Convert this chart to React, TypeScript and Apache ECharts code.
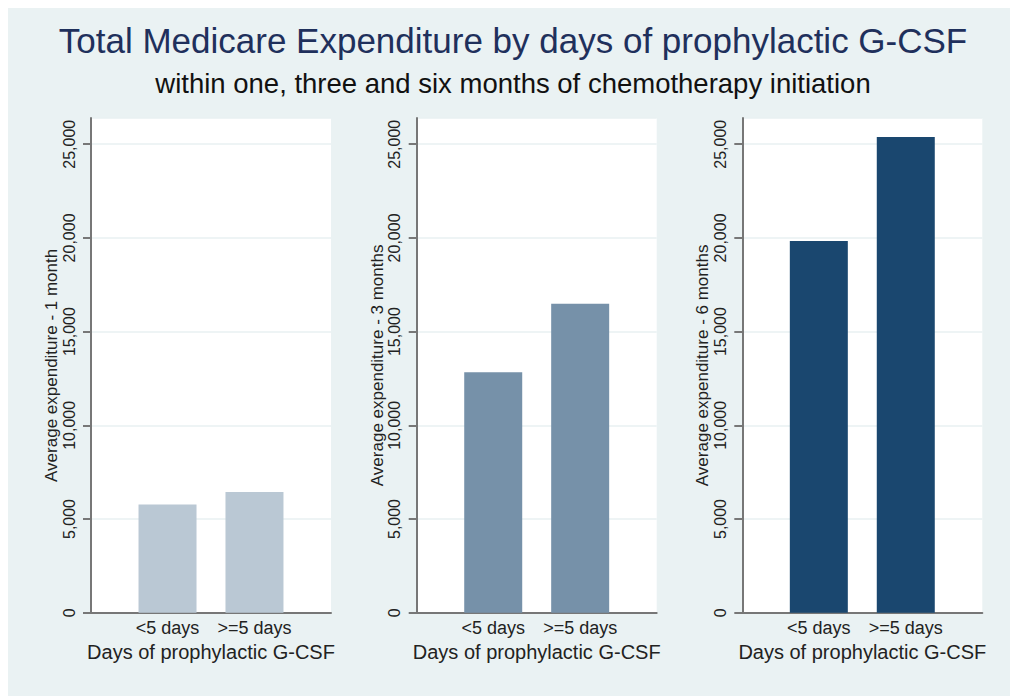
import React, { useEffect, useRef } from "react";
import * as echarts from "echarts";

const TITLE = "Total Medicare Expenditure by days of prophylactic G-CSF";
const SUBTITLE = "within one, three and six months of chemotherapy initiation";
const categories = ["<5 days", ">=5 days"];
const xTitle = "Days of prophylactic G-CSF";
const yTitles = [
  "Average expenditure - 1 month",
  "Average expenditure - 3 months",
  "Average expenditure - 6 months",
];
const exp1Month = [5770, 6440];
const exp3Months = [12830, 16490];
const exp6Months = [19830, 25380];
const panelValues = [exp1Month, exp3Months, exp6Months];
const barColors = ["#bac8d4", "#7691a9", "#1a476f"];
const yMax = 26400;
const yStep = 5000;

const FONT = "Liberation Sans, Arial, Helvetica, sans-serif";
const gridLefts = [83, 408.7, 734.3];

export default function App() {
  const ref = useRef<HTMLDivElement>(null);
  useEffect(() => {
    if (!ref.current) return;
    const chart = echarts.init(ref.current, null, { renderer: "svg" });
    const grids = gridLefts.map((left) => ({
      left,
      top: 110,
      width: 240,
      height: 494.7,
      show: true,
      backgroundColor: "#ffffff",
      borderWidth: 0,
    }));
    const xAxes = gridLefts.map((_, i) => ({
      type: "value",
      gridIndex: i,
      min: 0.12,
      max: 2.88,
      name: xTitle,
      nameLocation: "middle",
      nameGap: 29,
      nameTextStyle: { fontSize: 20, color: "#222", fontFamily: FONT },
      axisLine: { show: true, lineStyle: { color: "#777", width: 2 } },
      axisTick: { show: false },
      splitLine: { show: false },
      axisLabel: {
        customValues: [1, 2],
        formatter: (v: number) => categories[Math.round(v) - 1] ?? "",
        fontSize: 18,
        color: "#222",
        fontFamily: FONT,
        margin: 6,
      },
    }));
    const yAxes = gridLefts.map((_, i) => ({
      type: "value",
      gridIndex: i,
      min: 0,
      max: yMax,
      interval: yStep,
      name: yTitles[i],
      nameLocation: "middle",
      nameRotate: 90,
      nameGap: 24,
      nameTextStyle: { fontSize: 17, color: "#222", fontFamily: FONT },
      axisLine: { show: true, lineStyle: { color: "#777", width: 2 } },
      axisTick: { show: true, length: 8, lineStyle: { color: "#777", width: 2 } },
      splitLine: { show: true, lineStyle: { color: "#e8f1f2", width: 1.5 } },
      axisLabel: {
        rotate: 90,
        fontSize: 16,
        color: "#222",
        fontFamily: FONT,
        margin: 14,
        formatter: (v: number) => v.toLocaleString("en-US"),
      },
    }));
    const series = panelValues.map((vals, i) => ({
      type: "bar",
      xAxisIndex: i,
      yAxisIndex: i,
      barWidth: 58,
      itemStyle: { color: barColors[i] },
      data: vals.map((v, j) => [j + 1, v]),
    }));
    chart.setOption({
      animation: false,
      backgroundColor: "#eaf2f3",
      textStyle: { fontFamily: FONT },
      grid: grids,
      xAxis: xAxes,
      yAxis: yAxes,
      series,
      graphic: [
        {
          type: "text",
          left: "center",
          top: 15,
          style: { text: TITLE, fontSize: 35, fill: "#1f305c", fontFamily: FONT },
        },
        {
          type: "text",
          left: "center",
          top: 61,
          style: { text: SUBTITLE, fontSize: 27.5, fill: "#111", fontFamily: FONT },
        },
      ],
    });
    return () => chart.dispose();
  }, []);
  return <div ref={ref} style={{ width: 1010, height: 688 }} />;
}
